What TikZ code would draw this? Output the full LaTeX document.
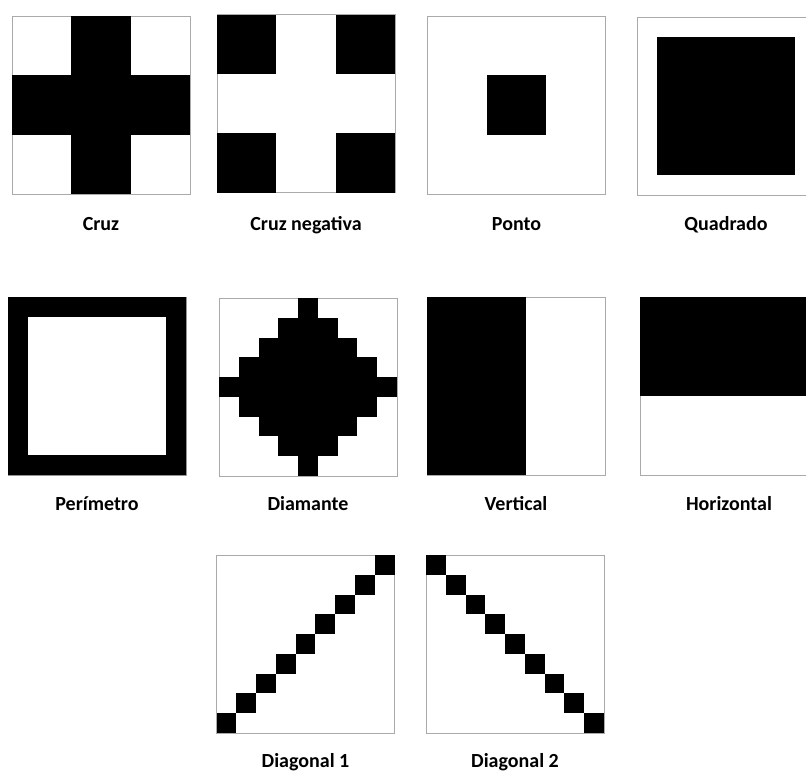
\documentclass[tikz,border=0pt]{standalone}
\usepackage{fontspec}
\setmainfont{Carlito}
\usetikzlibrary{positioning}
\definecolor{pfline}{RGB}{170,170,170}
\definecolor{pfink}{RGB}{0,0,0}
\tikzset{
  pfFrame/.style={draw=pfline, line width=1pt, fill=white, inner sep=0pt,
                  outer sep=0pt, minimum width=178pt, minimum height=178pt},
  pfLabel/.style={font=\bfseries\fontsize{20}{24}\selectfont, inner sep=0pt,
                  anchor=base},
  pfGrid/.style={shift={(#1.north west)}, x=178pt/9, y=-178pt/9},
  pfCell/.style={fill=pfink}
}

\begin{document}
\begin{tikzpicture}[x=1pt,y=-1pt]
  \clip (0,0) rectangle (806,774);

  % frames, first row
  \node[pfFrame] (cruz) at (101,105) {};
  \node[pfFrame] (cruzneg) at (306,103.5) {};
  \node[pfFrame] (ponto) at (516.5,105) {};
  \node[pfFrame] (quadrado) at (726,106) {};
  % second row
  \node[pfFrame] (perimetro) at (97,386) {};
  \node[pfFrame] (diamante) at (308,387) {};
  \node[pfFrame] (vertical) at (516,386) {};
  \node[pfFrame] (horizontal) at (729,386) {};
  % third row
  \node[pfFrame] (diag1) at (305.5,644) {};
  \node[pfFrame] (diag2) at (515,644) {};

  \begin{scope}[pfGrid=cruz]
    \fill[pfCell] (3,0) rectangle (6,9);
    \fill[pfCell] (0,3) rectangle (9,6);
  \end{scope}
  \begin{scope}[pfGrid=cruzneg]
    \fill[pfCell] (0,0) rectangle (3,3);
    \fill[pfCell] (6,0) rectangle (9,3);
    \fill[pfCell] (0,6) rectangle (3,9);
    \fill[pfCell] (6,6) rectangle (9,9);
  \end{scope}
  \begin{scope}[pfGrid=ponto]
    \fill[pfCell] (3,3) rectangle (6,6);
  \end{scope}
  \begin{scope}[pfGrid=quadrado]
    \fill[pfCell] (1,1) rectangle (8,8);
  \end{scope}
  \begin{scope}[pfGrid=perimetro]
    \fill[pfCell, even odd rule] (0,0) rectangle (9,9) (1,1) rectangle (8,8);
  \end{scope}
  \begin{scope}[pfGrid=diamante]
    \foreach \r/\w in {0/0,1/1,2/2,3/3,4/4,5/3,6/2,7/1,8/0}
      \fill[pfCell] (4-\w,\r) rectangle (5+\w,\r+1);
  \end{scope}
  \begin{scope}[pfGrid=vertical]
    \fill[pfCell] (0,0) rectangle (5,9);
  \end{scope}
  \begin{scope}[pfGrid=horizontal]
    \fill[pfCell] (0,0) rectangle (9,5);
  \end{scope}
  \begin{scope}[pfGrid=diag1]
    \foreach \i in {0,...,8}
      \fill[pfCell] (\i,8-\i) rectangle (\i+1,9-\i);
  \end{scope}
  \begin{scope}[pfGrid=diag2]
    \foreach \i in {0,...,8}
      \fill[pfCell] (\i,\i) rectangle (\i+1,\i+1);
  \end{scope}

  \node[pfLabel] (cruzlbl) at (cruz.south |- 0,230) {Cruz};
  \node[pfLabel] (cruzneglbl) at (cruzneg.south |- 0,230) {Cruz negativa};
  \node[pfLabel] (pontolbl) at (ponto.south |- 0,230) {Ponto};
  \node[pfLabel] (quadradolbl) at (quadrado.south |- 0,230) {Quadrado};
  \node[pfLabel] (perimetrolbl) at (perimetro.south |- 0,510) {Perímetro};
  \node[pfLabel] (diamantelbl) at (diamante.south |- 0,510) {Diamante};
  \node[pfLabel] (verticallbl) at (vertical.south |- 0,510) {Vertical};
  \node[pfLabel] (horizontallbl) at (horizontal.south |- 0,510) {Horizontal};
  \node[pfLabel] (diag1lbl) at (diag1.south |- 0,767) {Diagonal 1};
  \node[pfLabel] (diag2lbl) at (diag2.south |- 0,767) {Diagonal 2};
\end{tikzpicture}
\end{document}
